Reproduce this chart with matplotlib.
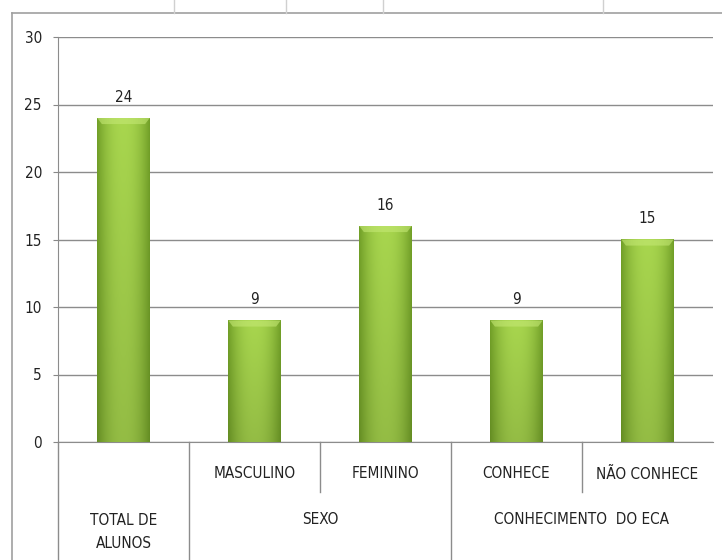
import numpy as np
import matplotlib
matplotlib.use('Agg')
import matplotlib.pyplot as plt
from matplotlib.lines import Line2D
import matplotlib.transforms as mtransforms

plt.rcParams['font.family'] = ['DejaVu Sans']
plt.rcParams['font.stretch'] = 'condensed'

# data
categorias = ['', 'MASCULINO', 'FEMININO', 'CONHECE', 'NÃO CONHECE']
grupos = ['TOTAL DE\nALUNOS', 'SEXO', 'CONHECIMENTO  DO ECA']
grupo_tamanho = [1, 2, 2]
valores = [24, 9, 16, 9, 15]
yticks = [0, 5, 10, 15, 20, 25, 30]

W, H = 722, 560
fig = plt.figure(figsize=(W / 100, H / 100), dpi=100)
ax = fig.add_axes([58 / W, (H - 442) / H, (713 - 58) / W, (442 - 37) / H])

x = np.arange(len(valores))
largura = 0.4
fs = 11

# green gradient for bars: dark edges, light centre
c_borda = np.array([0x72, 0xa0, 0x28]) / 255
c_meio = np.array([0xa8, 0xd6, 0x4e]) / 255
t = np.linspace(-1, 1, 60)
perfil = 1 - np.abs(t) ** 2.2
grad_h = c_borda + (c_meio - c_borda) * perfil[:, None]

for xi, v in zip(x, valores):
    ny = 80
    tv = np.linspace(0, 1, ny)[:, None, None]  # 0 top -> 1 bottom
    img = grad_h[None, :, :] * (1 - 0.12 * tv)
    ax.imshow(img, extent=[xi - largura / 2, xi + largura / 2, 0, v],
              aspect='auto', origin='upper', zorder=3, interpolation='bilinear')
    # bevel highlight on top
    b = 0.45
    dx = 0.035
    ax.fill([xi - largura / 2, xi + largura / 2, xi + largura / 2 - dx, xi - largura / 2 + dx],
            [v, v, v - b, v - b], color='#c4e874', alpha=0.6, lw=0, zorder=4)
    ax.text(xi, v + 1.0, str(v), ha='center', va='bottom', fontsize=fs, color='#222222')

ax.set_xlim(-0.5, len(valores) - 0.5)
ax.set_ylim(0, 30)
ax.set_yticks(yticks)
ax.set_yticklabels([str(v) for v in yticks], fontsize=fs, color='#222222')
ax.tick_params(axis='y', length=3.6, color='#888888', pad=8)
ax.set_xticks([])
ax.grid(axis='y', color='#8c8c8c', lw=1.0, zorder=0)
ax.set_axisbelow(True)
for s in ['top', 'right']:
    ax.spines[s].set_visible(False)
ax.spines['left'].set_color('#8c8c8c')
ax.spines['bottom'].set_color('#8c8c8c')

# multi-level category axis
trans = mtransforms.blended_transform_factory(ax.transData, ax.transAxes)
y_nivel1 = (442 - 474) / 405
y_nivel2 = (442 - 520) / 405
y_div1 = (442 - 492) / 405

for xi, lab in zip(x, categorias):
    if lab:
        ax.text(xi, y_nivel1, lab, transform=trans, ha='center', va='center',
                fontsize=fs, color='#222222')

inicio = 0
fronteiras = [-0.5]
for g, n in zip(grupos, grupo_tamanho):
    centro = inicio + (n - 1) / 2
    yy = y_nivel2 - (0.029 if '\n' in g else 0)
    ax.text(centro, yy, g, transform=trans, ha='center', va='center',
            fontsize=fs, color='#222222', linespacing=1.7)
    # inner dividers
    for k in range(1, n):
        ax.add_line(Line2D([inicio + k - 0.5] * 2, [0, y_div1], transform=trans,
                           color='#8c8c8c', lw=1, clip_on=False))
    inicio += n
    fronteiras.append(inicio - 0.5)

for f in fronteiras[:-1]:
    ax.add_line(Line2D([f, f], [0, -0.4], transform=trans,
                       color='#8c8c8c', lw=1, clip_on=False))

# chart frame and spreadsheet cell lines
fig.add_artist(Line2D([12 / W, 12 / W], [0, (H - 13) / H], color='#a0a0a0', lw=1.2))
fig.add_artist(Line2D([12 / W, 1], [(H - 13) / H] * 2, color='#a0a0a0', lw=1.2))
for xc in [174, 286, 383, 603]:
    fig.add_artist(Line2D([xc / W] * 2, [(H - 13) / H, 1], color='#d0d0d0', lw=1))

fig.savefig('out.png', dpi=100, facecolor='white')
